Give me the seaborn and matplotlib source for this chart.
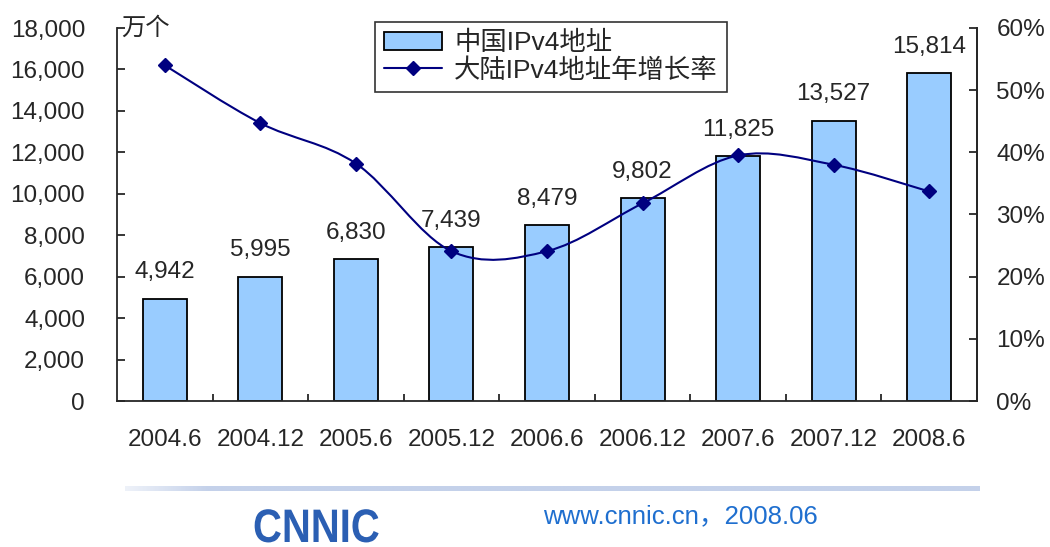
import numpy as np
import pandas as pd
import matplotlib
matplotlib.use('Agg')
import matplotlib.pyplot as plt
import matplotlib.ticker as mticker
from matplotlib.path import Path
from matplotlib.patches import PathPatch, Patch
from matplotlib.lines import Line2D
from matplotlib.textpath import TextPath
from matplotlib.font_manager import FontProperties
from matplotlib.transforms import Affine2D, IdentityTransform
import seaborn as sns

# ── data ─────────────────────────────────────────────────────
periods   = ['2004.6', '2004.12', '2005.6', '2005.12', '2006.6',
             '2006.12', '2007.6', '2007.12', '2008.6']
addresses = [4942, 5995, 6830, 7439, 8479, 9802, 11825, 13527, 15814]   # 万个
growth    = [0.540, 0.447, 0.382, 0.241, 0.241, 0.318, 0.395, 0.380, 0.337]

bar_label  = '中国IPv4地址'
line_label = '大陆IPv4地址年增长率'
unit_label = '万个'
footer_txt = 'www.cnnic.cn，2008.06'

BAR   = '#99CCFF'
NAVY  = '#000080'
LINK  = '#1F6FCF'
LOGO  = '#2B5FB3'
FS    = 17.5

sns.set_style('white')
plt.rcParams['font.family'] = ['Liberation Sans', 'Noto Sans CJK SC', 'DejaVu Sans']
plt.rcParams['axes.linewidth'] = 1.3

df = pd.DataFrame({'period': periods, 'addr': addresses, 'growth': growth})

fig = plt.figure(figsize=(10.5, 5.47), dpi=100)
ax = fig.add_axes([117/1050, 1-401/547, (977-117)/1050, (401-28)/547])

sns.barplot(data=df, x='period', y='addr', color=BAR, edgecolor='black',
            linewidth=1.3, width=0.46, saturation=1, ax=ax)
ax.bar_label(ax.containers[0], labels=[f'{v:,}' for v in addresses],
             padding=11, fontsize=FS)
ax.set_ylim(0, 18000)
ax.set_xlim(-0.5, len(periods)-0.5)
ax.yaxis.set_major_locator(mticker.MultipleLocator(2000))
ax.yaxis.set_major_formatter(mticker.FuncFormatter(lambda v, _: f'{int(v):,}'))
ax.set_xlabel(''); ax.set_ylabel('')
ax.tick_params(axis='y', direction='in', length=6, width=1.3, labelsize=FS, pad=23, left=True)
ax.tick_params(axis='x', which='major', length=0, labelsize=FS, pad=20)
ax.set_xticks(np.arange(len(periods)-1) + 0.5, minor=True)
ax.tick_params(axis='x', which='minor', direction='in', length=5, width=1.3, bottom=True)
ax.spines['top'].set_visible(False)
ax.text(0.005, 1.0, unit_label, transform=ax.transAxes, fontsize=FS,
        va='center', ha='left')

# ── growth line (smoothed, Excel-like) ───────────────────────
ax2 = ax.twinx()
ax2.set_ylim(0, 0.6)
xs = np.arange(len(periods), dtype=float)
ys = np.array(growth)
n = len(xs)
verts, codes = [(xs[0], ys[0])], [Path.MOVETO]
for i in range(n-1):
    p0 = max(i-1, 0); p3 = min(i+2, n-1)
    c1 = (xs[i] + (xs[i+1]-xs[p0])/6, ys[i] + (ys[i+1]-ys[p0])/6)
    c2 = (xs[i+1] - (xs[p3]-xs[i])/6, ys[i+1] - (ys[p3]-ys[i])/6)
    verts += [c1, c2, (xs[i+1], ys[i+1])]
    codes += [Path.CURVE4]*3
ax2.add_patch(PathPatch(Path(verts, codes), fill=False, edgecolor=NAVY,
                        linewidth=1.5, transform=ax2.transData))
ax2.plot(xs, ys, linestyle='none', marker='D', markersize=7, color=NAVY)
ax2.yaxis.set_major_locator(mticker.MultipleLocator(0.1))
ax2.yaxis.set_major_formatter(mticker.PercentFormatter(1.0, decimals=0))
ax2.tick_params(axis='y', direction='in', length=6, width=1.3, labelsize=FS, pad=14, right=True)
for s in ['top', 'left', 'bottom']:
    ax2.spines[s].set_visible(False)
ax2.spines['right'].set_linewidth(1.3)
ax2.grid(False); ax.grid(False)

handles = [Patch(facecolor=BAR, edgecolor='black', linewidth=1.3, label=bar_label),
           Line2D([0], [0], color=NAVY, marker='D', markersize=7, linewidth=1.5, label=line_label)]
leg = fig.legend(handles=handles, loc='upper left', bbox_to_anchor=(375/1050, 1-22/547),
                 fontsize=19, frameon=True, fancybox=False, borderpad=0.35, borderaxespad=0,
                 labelspacing=0.1, handlelength=2.2, handletextpad=0.45)
leg.get_frame().set_edgecolor('black')
leg.get_frame().set_linewidth(1.2)

# ── footer ───────────────────────────────────────────────────
fax = fig.add_axes([125/1050, 1-491/547, (980-125)/1050, 5/547])
grad = np.ones((2, 200))
grad[:, :20] = np.linspace(0.3, 1, 20)
fax.imshow(grad, aspect='auto', cmap=matplotlib.colors.LinearSegmentedColormap.from_list(
    'g', ['#ffffff', '#c4d1ea']), vmin=0, vmax=1)
fax.axis('off')

logo = TextPath((0, 0), 'CNNIC', size=47,
                prop=FontProperties(family='Liberation Sans', weight='bold'))
lw_ = logo.get_extents().width
fig.patches.append(PathPatch(logo, facecolor=LOGO, edgecolor='none',
                             transform=Affine2D().scale(124/lw_, 1).translate(253, 5)
                             + IdentityTransform()))
fig.text(543/1050, 1-516/547, footer_txt, fontsize=18.5, color=LINK, ha='left', va='center')

fig.savefig('out.png', dpi=100)
